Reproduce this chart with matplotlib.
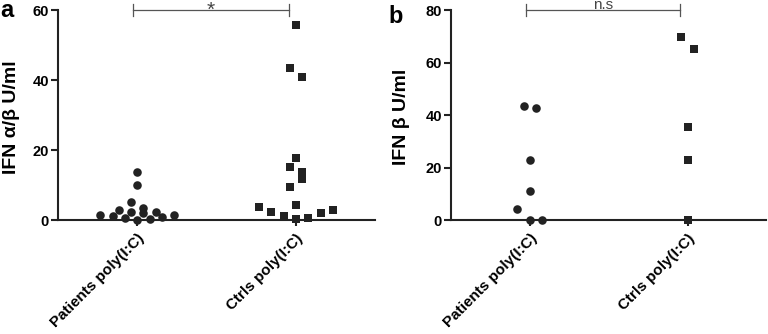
import numpy as np
import matplotlib
matplotlib.use("Agg")
import matplotlib.pyplot as plt

plt.rcParams['font.family'] = ['Liberation Sans', 'DejaVu Sans']

# ---- data ----
groups = ['Patients poly(I:C)', 'Ctrls poly(I:C)']

# panel a: IFN alpha/beta U/ml
a_patients = [1.6, 1.1, 2.9, 0.7, 5.2, 2.2, 13.7, 10.0, 0.0, 3.6, 1.9, 0.3, 2.4, 0.8, 1.6]
a_ctrls = [55.8, 43.6, 40.8, 17.7, 15.3, 13.8, 11.7, 9.6, 4.4, 3.7, 2.3, 1.1, 0.2, 0.5, 2.1, 3.0]

# panel b: IFN beta U/ml
b_patients = [43.4, 42.9, 22.8, 11.2, 4.2, 0.0, 0.0]
b_ctrls = [70.0, 65.3, 35.4, 22.9, 0.0]

# horizontal swarm slots of each point (column-scatter layout)
a_patients_slot = [-6, -4, -3, -2, -1, -1, 0, 0, 0, 1, 1, 2, 3, 4, 6]
a_ctrls_slot = [0, -1, 1, 0, -1, 1, 1, -1, 0, -6, -4, -2, 0, 2, 4, 6]
b_patients_slot = [-1, 1, 0, 0, -2, 0, 2]
b_ctrls_slot = [-1, 1, 0, 0, 0]

a_sig = '*'
b_sig = 'n.s'

SLOT = 0.039
INK = '#222222'
H = 334


def draw_panel(fig, ax, pat, pat_slot, ctl, ctl_slot, ymax, yticks, ylabel, label_x,
               sig, sig_size, sig_base):
    ax.scatter(np.array(pat_slot) * SLOT + 0, pat, marker='o', s=38, color=INK,
               linewidths=0, clip_on=False, zorder=3)
    ax.scatter(np.array(ctl_slot) * SLOT + 1, ctl, marker='s', s=36, color=INK,
               linewidths=0, clip_on=False, zorder=3)
    ax.set_xlim(-0.5, 1.5)
    ax.set_ylim(0, ymax)
    ax.set_yticks(yticks)
    ax.set_xticks([0, 1])
    ax.set_xticklabels(groups, rotation=45, ha='right', rotation_mode='anchor',
                       fontsize=11, fontweight='bold')
    for lab in ax.get_yticklabels():
        lab.set_fontweight('bold')
        lab.set_fontsize(10.5)
    ax.set_ylabel(ylabel, fontsize=14, fontweight='bold')
    ax.yaxis.set_label_coords(label_x, 0.49)
    for side in ['top', 'right']:
        ax.spines[side].set_visible(False)
    for side in ['left', 'bottom']:
        ax.spines[side].set_linewidth(1.5)
        ax.spines[side].set_color(INK)
    ax.tick_params(axis='y', length=5, width=1.5, pad=1.5, color=INK)
    ax.tick_params(axis='x', length=4, width=1.5, pad=4, color=INK)

    # significance bracket
    x0, x1 = -0.025, 0.955
    y = ymax
    ax.plot([x0, x1], [y, y], color='#555555', lw=0.9, clip_on=False)
    d = ymax * 0.028
    for xx in (x0, x1):
        ax.plot([xx, xx], [y - d, y + d], color='#555555', lw=0.9, clip_on=False)
    # label sits in the few pixels above the bracket
    xm = ax.transData.transform(((x0 + x1) / 2, 0))[0] / fig.bbox.width
    fig.text(xm, 1 - sig_base / H, sig, ha='center', va='baseline',
             fontsize=sig_size, color='#444444')


fig = plt.figure(figsize=(7.68, 3.34), dpi=100)
ax1 = fig.add_axes([0.0755, 0.341, 0.413, 0.628])
ax2 = fig.add_axes([0.587, 0.341, 0.411, 0.628])

draw_panel(fig, ax1, a_patients, a_patients_slot, a_ctrls, a_ctrls_slot, 60, [0, 20, 40, 60],
           'IFN α/β U/ml', -0.121, a_sig, 15, 15.5)
draw_panel(fig, ax2, b_patients, b_patients_slot, b_ctrls, b_ctrls_slot, 80, [0, 20, 40, 60, 80],
           'IFN β U/ml', -0.130, b_sig, 11, 9.0)

fig.text(0.0, 1 - 17 / H, 'a', fontsize=17, fontweight='bold', ha='left', va='baseline')
fig.text(388 / 768, 1 - 23 / H, 'b', fontsize=17, fontweight='bold', ha='left', va='baseline')

fig.savefig('out.png', dpi=100)
